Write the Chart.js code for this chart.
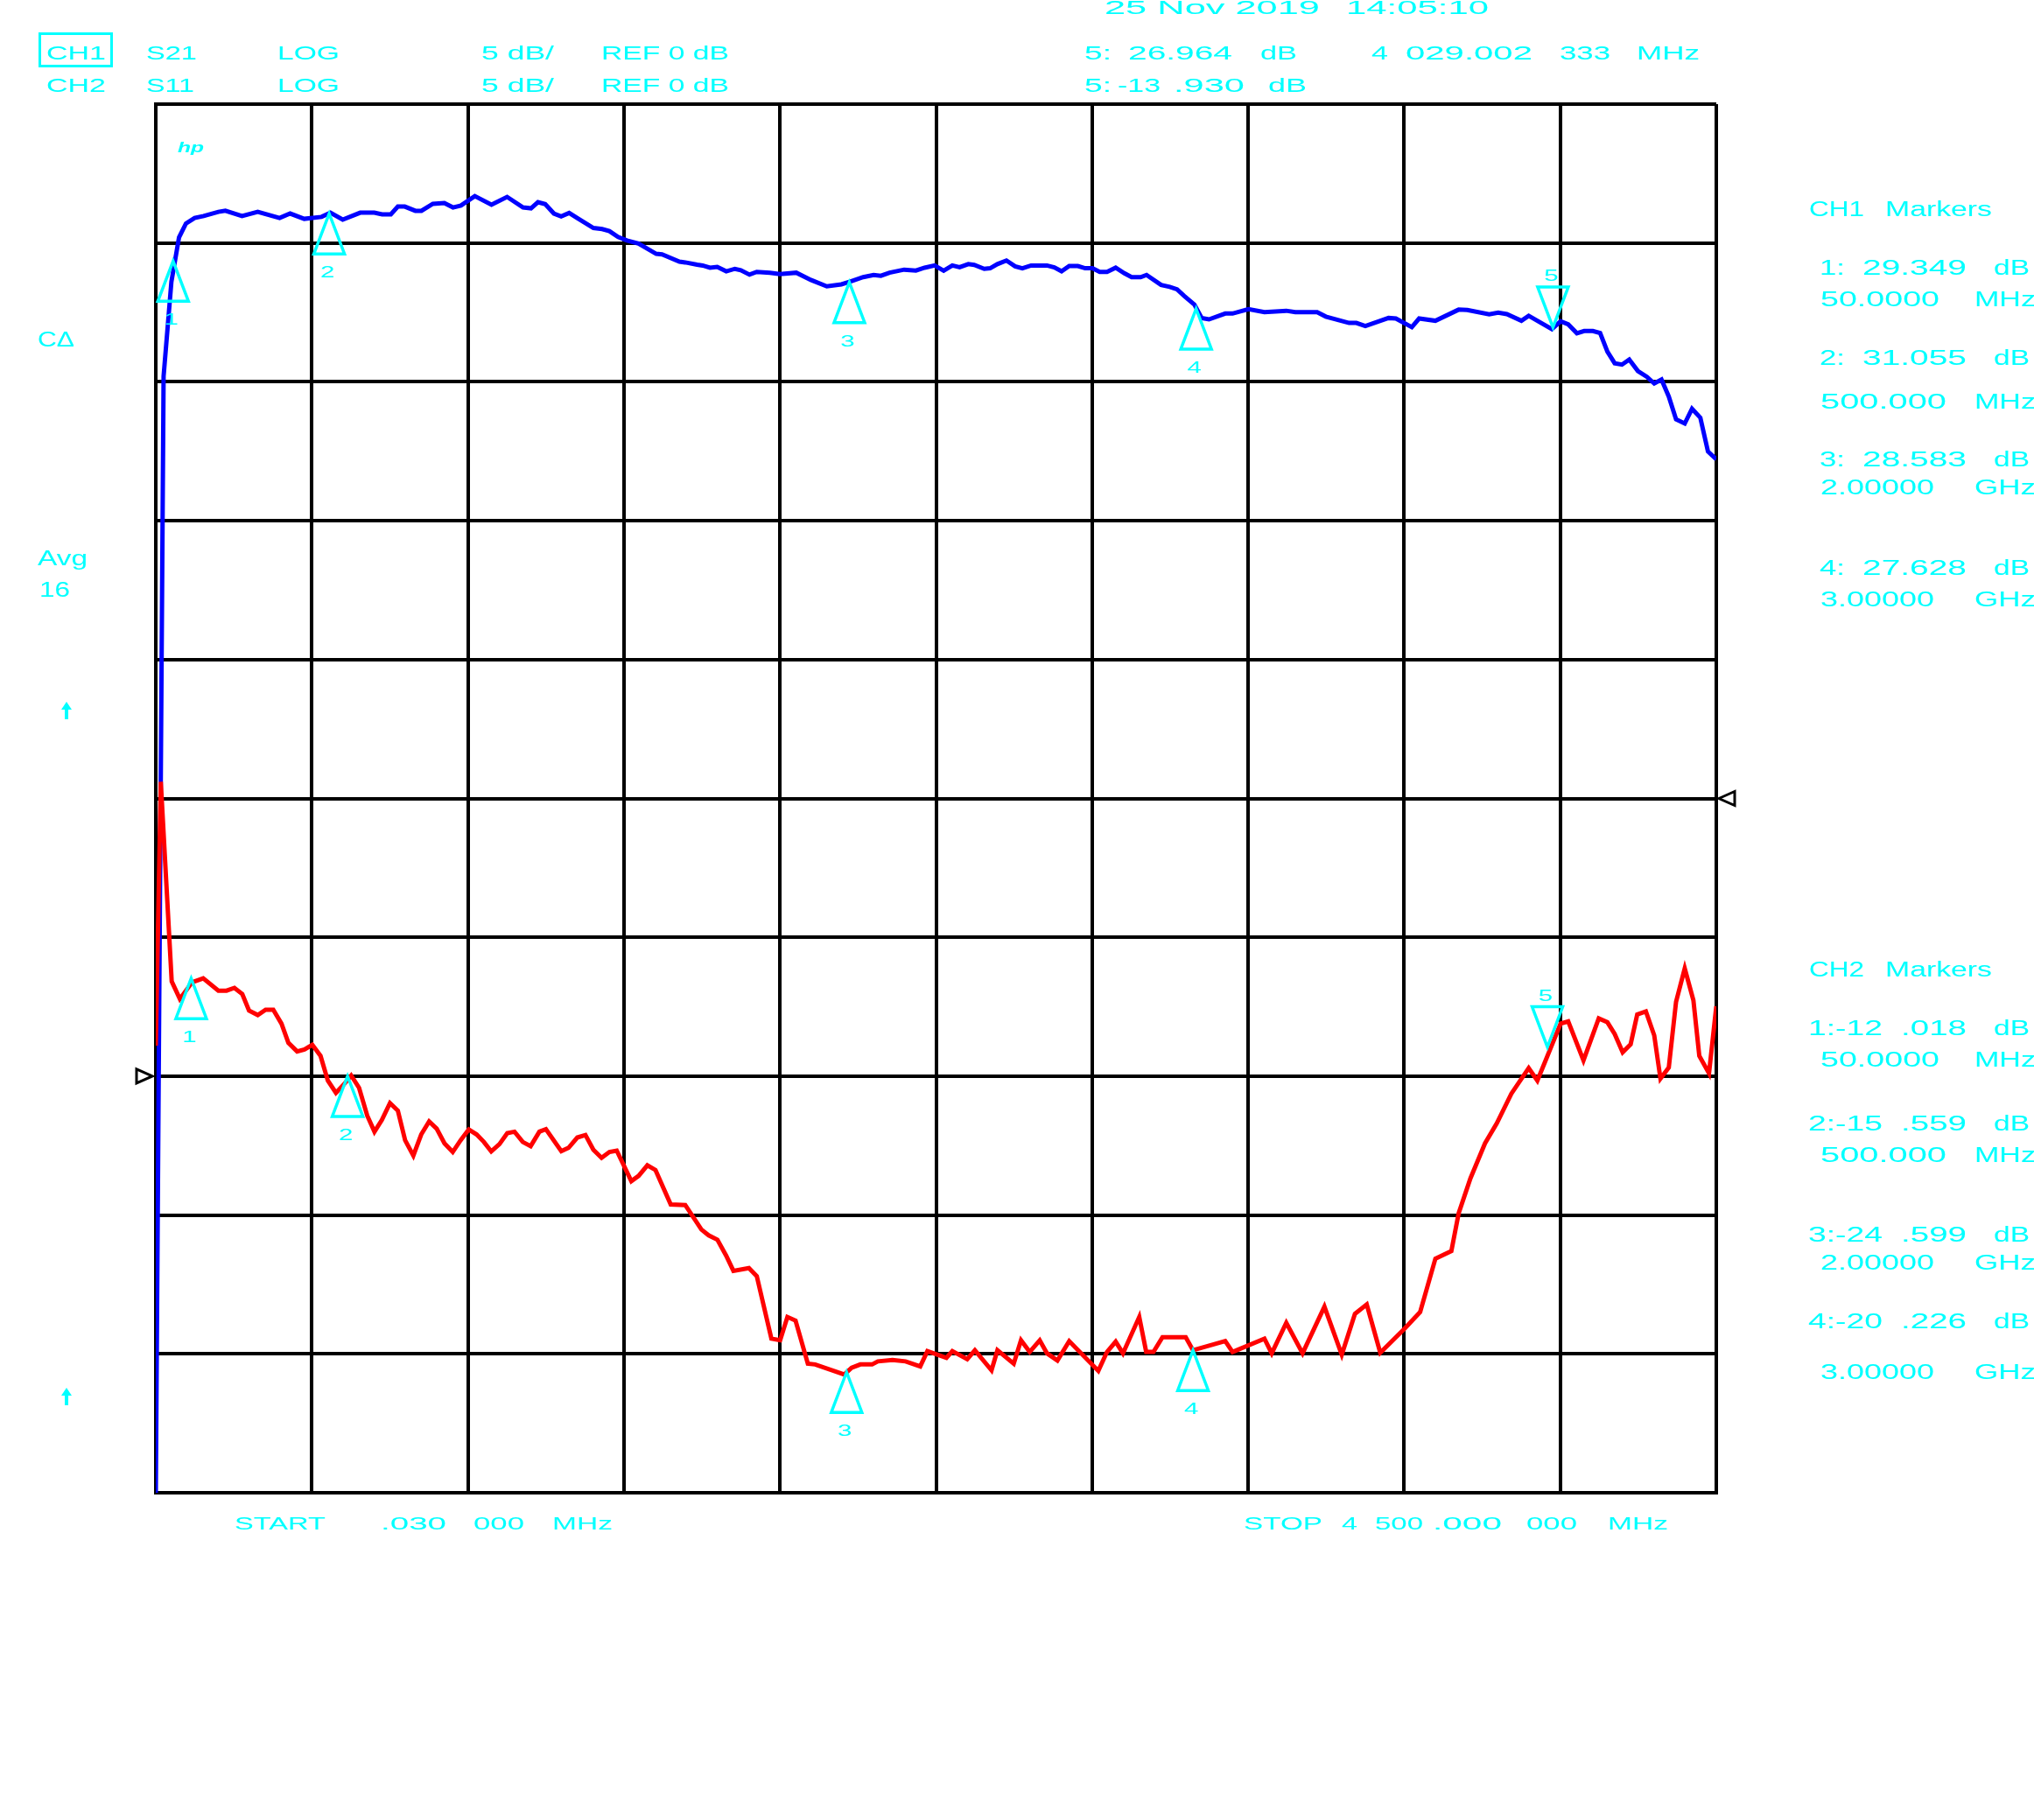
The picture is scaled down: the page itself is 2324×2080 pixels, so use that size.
<!DOCTYPE html>
<html>
<head>
<meta charset="utf-8">
<title>S21 / S11 sweep</title>
<script src="https://cdn.jsdelivr.net/npm/chart.js@4.4.0/dist/chart.umd.min.js"></script>
<style>
  html, body { margin: 0; padding: 0; background: #fff; overflow: hidden; }
  #wrap { position: relative; width: 2324px; height: 2080px; overflow: hidden; }
  #plot { position: absolute; left: 0; top: 0; }
  .t {
    position: absolute; color: #00ffff; white-space: pre; line-height: 1;
    font-family: 'Liberation Sans', Arial, sans-serif; transform-origin: 0 0;
  }
  #ch1box { position: absolute; left: 44px; top: 37px; width: 79px; height: 34px; border: 3px solid #00ffff; }
  .arrow { position: absolute; width: 12px; height: 20px; }
  .arrow::before { content: ''; position: absolute; left: 0; top: 0; border-left: 6px solid transparent;
    border-right: 6px solid transparent; border-bottom: 9px solid #00ffff; }
  .arrow::after { content: ''; position: absolute; left: 4px; top: 8px; width: 4px; height: 12px; background: #00ffff; }
</style>
</head>
<body>
<div id="wrap">
  <canvas id="plot" width="2324" height="2080"></canvas>
  <div id="ch1box"></div>
  <div class="arrow" style="left:70px; top:802px;"></div>
  <div class="arrow" style="left:70px; top:1586px;"></div>
</div>
<script>
'use strict';

/* ── Sweep data (MHz / dB) ────────────────────────────────────────────── */
const xTicks = [0, 450, 900, 1350, 1800, 2250, 2700, 3150, 3600, 4050, 4500];

// CH1 S21 trace
const s21Freq = [0.03, 22.5, 45, 67, 87, 112, 138, 180.5, 200.7, 248.7, 294, 357, 387.5, 428, 478,
  503.6, 539, 589.5, 630, 652.6, 677.8, 698, 718, 748.5, 766, 799, 832, 857, 880, 920, 968, 1013,
  1059, 1082, 1102, 1123, 1148, 1169, 1192, 1216, 1262, 1287, 1308, 1333, 1359, 1392, 1443, 1460,
  1510, 1527, 1561, 1577, 1598, 1619, 1645, 1670, 1687, 1712, 1733, 1771, 1800, 1847, 1889, 1935,
  1977, 2002, 2040, 2070, 2091, 2116, 2158, 2192, 2217, 2246, 2272, 2297, 2318, 2343, 2360, 2389,
  2406, 2427, 2453, 2478, 2499, 2524, 2570, 2591, 2612, 2634, 2659, 2680, 2701, 2722, 2743, 2768,
  2793, 2814, 2840, 2857, 2899, 2924, 2945, 2966, 2995, 3016, 3037, 3084, 3105, 3151, 3197, 3260,
  3286, 3349, 3374, 3441, 3462, 3488, 3555, 3576, 3622, 3643, 3690, 3757, 3782, 3845, 3871, 3896,
  3938, 3959, 4026, 4051, 4073, 4098, 4119, 4144, 4165, 4186, 4207, 4228, 4249, 4274, 4300, 4321,
  4342, 4363, 4384, 4409, 4430, 4454, 4476, 4500];
const s21Db = [-15, 25.2, 28.6, 30.2, 30.7, 30.9, 30.97, 31.12, 31.16, 30.97, 31.12, 30.9, 31.06, 30.87, 30.94,
  31.09, 30.84, 31.09, 31.09, 31.03, 31.03, 31.31, 31.31, 31.16, 31.16, 31.41, 31.44, 31.28, 31.35, 31.69, 31.38, 31.66,
  31.28, 31.25, 31.47, 31.4, 31.06, 30.96, 31.08, 30.89, 30.54, 30.5, 30.43, 30.22, 30.09, 29.98, 29.61, 29.59,
  29.33, 29.3, 29.22, 29.19, 29.11, 29.14, 28.98, 29.07, 29.02, 28.86, 28.96, 28.93, 28.88, 28.93, 28.67, 28.44,
  28.51, 28.61, 28.77, 28.85, 28.82, 28.93, 29.04, 29.01, 29.11, 29.19, 29.0, 29.19, 29.13, 29.24, 29.21, 29.07,
  29.09, 29.24, 29.37, 29.16, 29.09, 29.19, 29.19, 29.12, 28.98, 29.17, 29.17, 29.09, 29.09, 28.96, 28.96, 29.11,
  28.91, 28.77, 28.77, 28.85, 28.49, 28.42, 28.33, 28.09, 27.78, 27.3, 27.25, 27.46, 27.46, 27.62, 27.51, 27.56,
  27.51, 27.51, 27.35, 27.12, 27.12, 27.01, 27.3, 27.28, 26.97, 27.28, 27.2, 27.6, 27.59, 27.43, 27.49, 27.44,
  27.2, 27.38, 26.9, 27.18, 27.07, 26.75, 26.83, 26.83, 26.76, 26.09, 25.67, 25.62, 25.8, 25.39, 25.18, 24.94,
  25.08, 24.47, 23.65, 23.5, 24.03, 23.71, 22.49, 22.21];

// CH2 S11 trace
const s11Freq = [0.03, 14.4, 45.9, 69.4, 104.8, 136.8, 180.5, 204, 226.7, 249.4, 268.9, 294.1, 316.8, 338.8,
  362.5, 382.4, 407.6, 428.7, 451.4, 475.1, 496.1, 519.5, 540.7, 563.5, 586.2, 609.7, 630.6, 651.8, 675.3,
  698, 719, 742.7, 765.4, 788.2, 809.9, 832.6, 856.3, 879, 902.5, 925.2, 946.2, 967.4, 990.9, 1013.6, 1034.5,
  1058.3, 1081, 1106.2, 1125.1, 1169.4, 1190.3, 1215.5, 1239, 1261.8, 1285.5, 1308.2, 1329.2, 1371.3, 1392.3,
  1417.5, 1441, 1484.9, 1526.8, 1573.3, 1594.2, 1619.5, 1644.7, 1665.7, 1710.4, 1733.1, 1775.2, 1800.5, 1821.4,
  1844.9, 1880.3, 1901.5, 1985.5, 2006.5, 2031.7, 2065.6, 2082.2, 2124.4, 2162.2, 2204.4, 2225, 2280, 2297,
  2340, 2362, 2410, 2427, 2474, 2495, 2520, 2549, 2570, 2600, 2634, 2718, 2743, 2768, 2789, 2836, 2856, 2877,
  2903, 2970, 2991, 3084, 3105, 3197, 3218, 3260, 3307, 3370, 3420, 3458, 3492, 3531, 3601, 3646, 3690, 3736,
  3757, 3791, 3833, 3867, 3909, 3959, 3984, 4008, 4051, 4073, 4117, 4161, 4186, 4207, 4230, 4253, 4272, 4297,
  4321, 4339, 4363, 4384, 4409, 4434, 4451, 4479, 4500];
const s11Db = [-8.9, 0.6, -6.59, -7.22, -6.62, -6.48, -6.92, -6.92, -6.82, -7.04, -7.64, -7.8, -7.61, -7.61,
  -8.11, -8.8, -9.11, -9.04, -8.87, -9.27, -10.16, -10.6, -10.32, -9.98, -10.42, -11.42, -12.0, -11.58, -10.97,
  -11.24, -12.31, -12.86, -12.1, -11.63, -11.89, -12.42, -12.73, -12.31, -11.92, -12.1, -12.37, -12.71, -12.45, -12.05, -12.0,
  -12.37, -12.52, -12.0, -11.91, -12.7, -12.58, -12.21, -12.12, -12.65, -12.94, -12.73, -12.68, -13.78, -13.59,
  -13.21, -13.38, -14.62, -14.64, -15.52, -15.73, -15.89, -16.46, -17.01, -16.91, -17.2, -19.45, -19.51, -18.67,
  -18.8, -20.35, -20.38, -20.74, -20.5, -20.38, -20.38, -20.27, -20.22, -20.27, -20.45, -19.9, -20.14, -19.9,
  -20.19, -19.87, -20.59, -19.87, -20.35, -19.51, -19.93, -19.51, -19.98, -20.24, -19.54, -20.61, -19.93, -19.56, -19.98, -18.67, -19.93, -19.93,
  -19.4, -19.4, -19.87, -19.54, -19.93, -19.45, -19.98, -18.88, -19.98, -18.3, -20.03, -18.56, -18.22, -19.96, -19.09, -18.49, -16.57, -16.3,
  -14.94, -13.68, -12.42, -11.7, -10.63, -9.71, -10.16, -9.43, -8.11, -8.03, -9.43, -7.92, -8.06, -8.48, -9.14, -8.85, -7.78, -7.67,
  -8.53, -10.09, -9.69, -7.32, -6.12, -7.27, -9.27, -9.9, -7.48];

// marker triangles (where they sit on the plot)
const markerNames  = ['1', '2', '3', '4', '5'];
const activeMarker = '5';
const s21MarkerFreq = [50, 500, 2000, 3000, 4029.002333];
const s21MarkerDb   = [29.349, 31.055, 28.583, 27.628, 26.964];
const s11MarkerFreq = [102, 553, 1992, 2991, 4013];
const s11MarkerDb   = [-6.48, -10.0, -20.66, -19.87, -8.95];

// marker read-outs as printed on the right
const markerFreqText = ['50.0000', '500.000', '2.00000', '3.00000'];
const markerUnitText = ['MHz', 'MHz', 'GHz', 'GHz'];
const s21ReadDb = [29.349, 31.055, 28.583, 27.628];
const s11ReadDb = [-12.018, -15.559, -24.599, -20.226];

/* ── Text overlay ──────────────────────────────────────────────────────── */
const wrap = document.getElementById('wrap');

function put(text, x, capTop, capH, w, extra) {
  const el = document.createElement('div');
  el.className = 't';
  const fs = capH / 0.716;
  el.style.fontSize = fs + 'px';
  if (extra) Object.assign(el.style, extra);
  el.textContent = text;
  el.style.left = x + 'px';
  el.style.top = (capTop - 0.13 * fs) + 'px';
  wrap.appendChild(el);
  const natural = el.getBoundingClientRect().width;
  if (w && natural) el.style.transform = 'scaleX(' + (w / natural) + ')';
}

// header lines
[
  ['CH1', 53, 53, 68], ['S21', 167, 53, 58], ['LOG', 317, 53, 71], ['5 dB/', 550, 53, 83],
  ['REF 0 dB', 687, 53, 146], ['5:', 1239, 53, 31], ['26.964', 1289, 53, 119], ['dB', 1440, 53, 42],
  ['4', 1567, 53, 19], ['029.002', 1606, 53, 145], ['333', 1782, 53, 58], ['MHz', 1870, 53, 72],
  ['CH2', 53, 90, 68], ['S11', 167, 90, 55], ['LOG', 317, 90, 71], ['5 dB/', 550, 90, 83],
  ['REF 0 dB', 687, 90, 146], ['5:', 1239, 90, 31], ['-13', 1277, 90, 49], ['.930', 1341, 90, 81],
  ['dB', 1449, 90, 44]
].forEach(([s, x, y, w]) => put(s, x, y, 16, w));
put('25 Nov 2019', 1262, 1, 16, 246);
put('14:05:10', 1538, 1, 16, 163);

// right-hand marker tables
const ch1Rows = [298, 401, 517, 641];
const ch1FreqRows = [334, 451, 549, 677];
const ch2Rows = [1167, 1276, 1403, 1502];
const ch2FreqRows = [1203, 1312, 1435, 1560];
const freqW = [136, 144, 130, 130];

put('CH1', 2067, 231, 17, 63); put('Markers', 2154, 231, 17, 122);
put('CH2', 2067, 1100, 17, 63); put('Markers', 2154, 1100, 17, 122);
s21ReadDb.forEach((v, i) => {
  put(markerNames[i] + ':', 2079, ch1Rows[i], 17, 29);
  put(v.toFixed(3), 2128, ch1Rows[i], 17, 119);
  put('dB', 2278, ch1Rows[i], 17, 41);
});
s11ReadDb.forEach((v, i) => {
  const [ip, fp] = v.toFixed(3).split('.');
  put(markerNames[i] + ':' + ip, 2066, ch2Rows[i], 17, 85);
  put('.' + fp, 2172, ch2Rows[i], 17, 75);
  put('dB', 2278, ch2Rows[i], 17, 41);
});
[ch1FreqRows, ch2FreqRows].forEach(rows => {
  markerFreqText.forEach((s, i) => {
    put(s, 2080, rows[i], 17, freqW[i]);
    put(markerUnitText[i], 2256, rows[i], 17, 70);
  });
});

// left status column
put('C\u0394', 43, 380, 17, 42);
put('Avg', 43, 630, 17, 57);
put('16', 45, 666, 17, 35);
put('hp', 203, 163, 12, 30, { fontStyle: 'italic', fontWeight: 'bold' });

// start / stop
[
  ['START', 268, 104], ['.030', 435, 75], ['000', 541, 58], ['MHz', 631, 69],
  ['STOP', 1421, 90], ['4', 1533, 18], ['500', 1571, 55], ['.000', 1637, 79], ['000', 1744, 58], ['MHz', 1837, 69]
].forEach(([s, x, w]) => put(s, x, 1735, 14, w));

/* ── Marker triangles + reference pointers ─────────────────────────────── */
const markerPlugin = {
  id: 'vnaMarkers',
  afterDatasetsDraw(chart) {
    const { ctx, scales: { x, y, y2 } } = chart;
    ctx.save();
    ctx.strokeStyle = '#00ffff';
    ctx.fillStyle = '#00ffff';
    ctx.lineWidth = 3.5;
    ctx.font = '19px "Liberation Sans", Arial, sans-serif';
    ctx.textAlign = 'center';

    function label(txt, px, base) {
      ctx.save();
      ctx.translate(px, base);
      ctx.scale(1.55, 1);
      ctx.fillText(txt, 0, 0);
      ctx.restore();
    }

    function drawSet(freqs, vals, scale) {
      freqs.forEach((f, i) => {
        const px = x.getPixelForValue(f);
        const py = scale.getPixelForValue(vals[i]);
        const down = markerNames[i] === activeMarker;
        const dir = down ? -1 : 1;
        ctx.beginPath();
        ctx.moveTo(px, py);
        ctx.lineTo(px - 17.5, py + dir * 46);
        ctx.lineTo(px + 17.5, py + dir * 46);
        ctx.closePath();
        ctx.stroke();
        if (down) label(markerNames[i], px - 2, py - 53);
        else label(markerNames[i], px - 2, py + 73);
      });
    }
    drawSet(s21MarkerFreq, s21MarkerDb, y);
    drawSet(s11MarkerFreq, s11MarkerDb, y2);

    // reference level pointers (REF 0 dB for each channel)
    ctx.strokeStyle = '#000';
    ctx.lineWidth = 3;
    const r1 = y.getPixelForValue(0);
    ctx.beginPath();
    ctx.moveTo(chart.chartArea.left - 4, r1);
    ctx.lineTo(chart.chartArea.left - 22, r1 - 8);
    ctx.lineTo(chart.chartArea.left - 22, r1 + 8);
    ctx.closePath();
    ctx.stroke();
    const r2 = y2.getPixelForValue(0);
    ctx.beginPath();
    ctx.moveTo(chart.chartArea.right + 3, r2);
    ctx.lineTo(chart.chartArea.right + 21, r2 - 8);
    ctx.lineTo(chart.chartArea.right + 21, r2 + 8);
    ctx.closePath();
    ctx.stroke();
    ctx.restore();
  }
};

/* ── Chart ─────────────────────────────────────────────────────────────── */
const gridStyle = { color: '#000', lineWidth: 4, drawTicks: false };

new Chart(document.getElementById('plot'), {
  type: 'line',
  data: {
    datasets: [
      {
        label: 'S21',
        data: s21Freq.map((f, i) => ({ x: f, y: s21Db[i] })),
        borderColor: '#0000ff',
        borderWidth: 5,
        pointRadius: 0,
        tension: 0,
        yAxisID: 'y',
        order: 1
      },
      {
        label: 'S11',
        data: s11Freq.map((f, i) => ({ x: f, y: s11Db[i] })),
        borderColor: '#ff0000',
        borderWidth: 5,
        pointRadius: 0,
        tension: 0,
        yAxisID: 'y2',
        order: 0
      }
    ]
  },
  options: {
    responsive: false,
    animation: false,
    devicePixelRatio: 1,
    layout: { padding: { left: 178, top: 119, right: 363, bottom: 374 } },
    plugins: { legend: { display: false }, tooltip: { enabled: false } },
    scales: {
      x: {
        type: 'linear', min: xTicks[0], max: xTicks[xTicks.length - 1],
        afterBuildTicks: s => { s.ticks = xTicks.map(v => ({ value: v })); },
        ticks: { display: false },
        grid: gridStyle,
        border: { color: '#000', width: 4 }
      },
      y: {
        min: -15, max: 35,
        ticks: { display: false, stepSize: 5 },
        grid: gridStyle,
        border: { color: '#000', width: 4 }
      },
      y2: { display: false, min: -25, max: 25 }
    }
  },
  plugins: [markerPlugin]
});
</script>
</body>
</html>
